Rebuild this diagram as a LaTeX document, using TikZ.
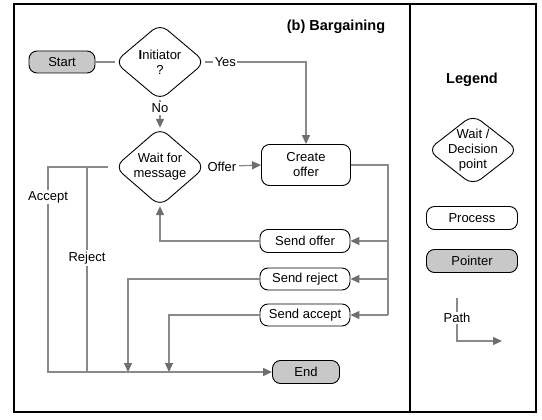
\documentclass[tikz,border=0pt]{standalone}
\usepackage{fontspec}
\setmainfont{Liberation Sans}
\usetikzlibrary{arrows.meta}
\definecolor{linegray}{HTML}{8A8A8A}
\definecolor{tipgray}{HTML}{6E6E6E}
\definecolor{fillgray}{HTML}{C8C8C8}
\begin{document}
\begin{tikzpicture}[x=1pt,y=-1pt,
  every node/.style={font=\fontsize{13}{15}\selectfont},
  proc/.style={draw=black, line width=0.9pt, rounded corners=8pt, minimum width=90pt, minimum height=23pt, inner sep=0pt, align=center},
  ptr/.style={proc, fill=fillgray, minimum width=67pt},
  decbox/.style={rectangle, minimum width=90pt, minimum height=77pt, inner sep=0pt, align=center},
  diamondline/.style={draw=black, line width=0.9pt, rounded corners=10pt},
  conn/.style={draw=linegray, line width=1.3pt},
  arr/.style={conn, -{Triangle[width=8pt,length=9pt,color=tipgray]}},
  lbl/.style={fill=white, inner sep=1.5pt},
  ttl/.style={font=\fontsize{14.5}{17}\selectfont\bfseries}
]
\useasboundingbox (0,0) rectangle (542,420);
% frame
\draw[line width=1.2pt] (14,4) rectangle (536,412);
\draw[line width=1.2pt] (410,4) -- (410,412);

% title
\node[ttl] (title) at (336,27) {(b) Bargaining};

% nodes
\node[proc, fill=fillgray, minimum width=66pt, minimum height=22pt] (start) at (62,62) {Start};
\node[decbox, minimum height=76pt] (init) at (160,62) {\textbf{I}nitiator\\?};
\node[decbox, minimum height=78pt] (wait) at (160,167) {Wait for\\message};
\node[proc, minimum width=89pt, minimum height=41pt] (create) at (306,165) {Create\\offer};
\node[proc, minimum height=23pt] (sendoffer) at (305,241) {Send offer};
\node[proc, minimum height=22pt] (sendreject) at (305,279) {Send reject};
\node[proc, minimum height=22pt] (sendaccept) at (305,315) {Send accept};
\node[ptr] (end) at (306,372) {End};

% diamond outlines
\foreach \n in {init,wait}{
  \draw[diamondline] (\n.north) -- (\n.east) -- (\n.south) -- (\n.west) -- cycle;
}

% connectors
\draw[conn] (start.east) -- (init.west);
\draw[arr] (init.east) -- node[lbl,pos=0.2]{Yes} (init.east -| create.north) -- (create.north);
\draw[arr] (init.south) -- node[lbl,pos=0.3]{No} (wait.north);
\draw[arr] (wait.east) -- node[lbl,pos=0.3,inner xsep=3pt]{Offer} (create.west);

\coordinate (bus) at (388,165);
\draw[conn] (create.east) -- (bus) -- (bus |- sendaccept);
\draw[arr] (bus |- sendoffer) -- (sendoffer.east);
\draw[arr] (bus |- sendreject) -- (sendreject.east);
\draw[arr] (bus |- sendaccept) -- (sendaccept.east);

\draw[arr] (sendoffer.west) -| (wait.south);
\coordinate (rj) at (128,372);
\coordinate (ac) at (169,372);
\draw[arr] (sendreject.west) -| (rj);
\draw[arr] (sendaccept.west) -| (ac);

\coordinate (accstart) at (108,167);
\coordinate (acccorner) at (48,167);
\coordinate (rejtop) at (87,167);
\coordinate (rejbot) at (87,372);
\draw[arr] (accstart) -- (acccorner) -- node[lbl,pos=0.146]{Accept} (acccorner |- end) -- (end.west);
\draw[conn] (rejtop) -- node[lbl,pos=0.444]{Reject} (rejbot);

% legend
\node[ttl] (legend) at (472,80) {Legend};
\node[decbox, minimum height=70pt] (legdec) at (473,150) {Wait /\\Decision\\point};
\draw[diamondline] (legdec.north) -- (legdec.east) -- (legdec.south) -- (legdec.west) -- cycle;
\node[proc, minimum width=91pt] (legproc) at (472,218) {Process};
\node[ptr, minimum width=91pt] (legptr) at (472,261) {Pointer};
\coordinate (pa) at (457,298);
\coordinate (pb) at (457,341);
\coordinate (pc) at (502,341);
\draw[arr] (pa) -- node[lbl,pos=0.47]{Path} (pb) -- (pc);
\end{tikzpicture}
\end{document}
